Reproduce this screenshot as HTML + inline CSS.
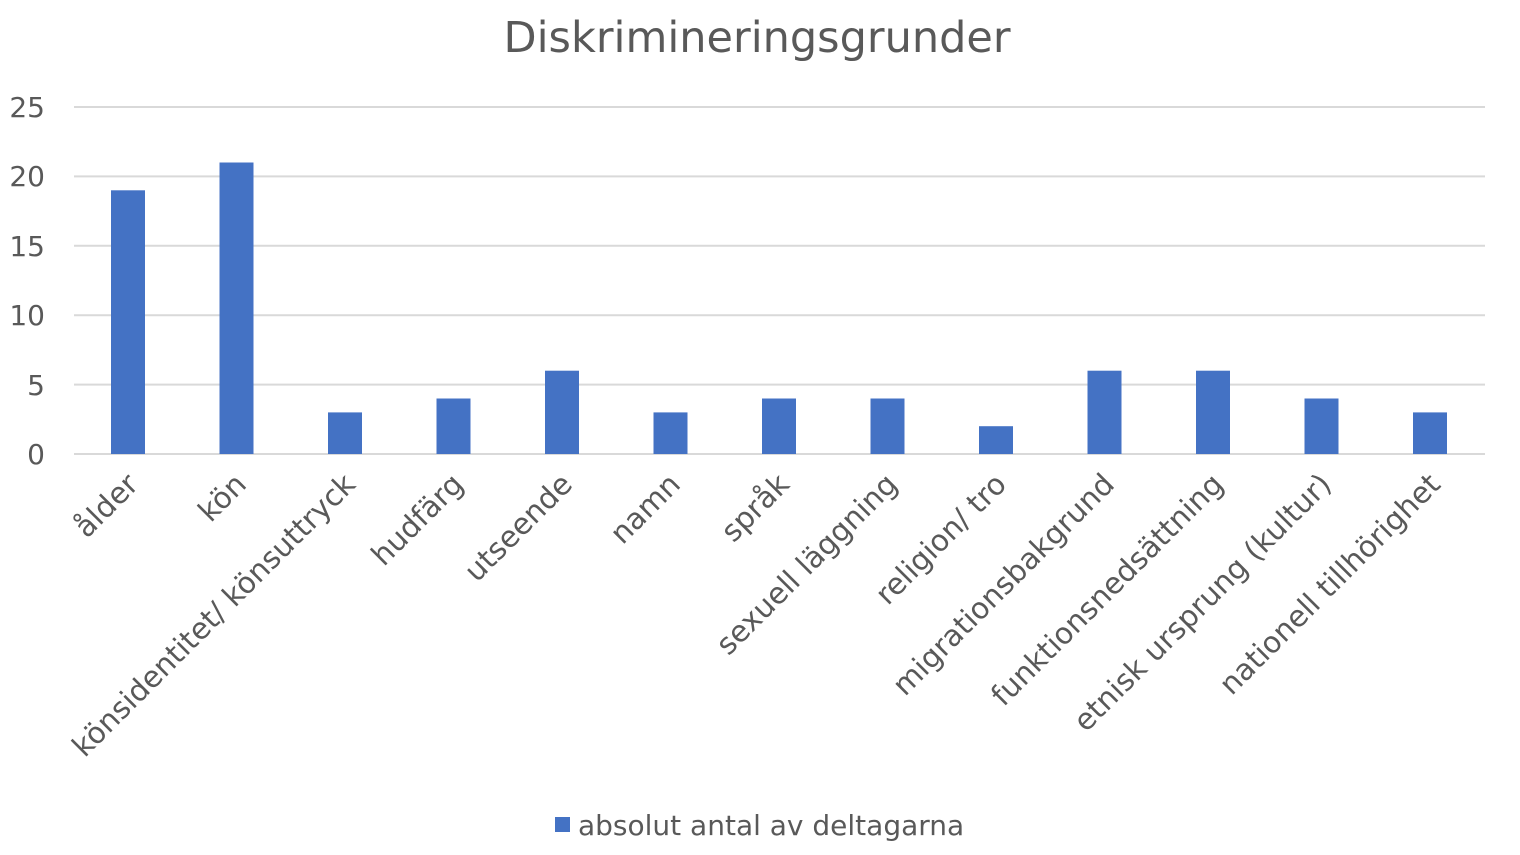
<!DOCTYPE html>
<html><head><meta charset="utf-8"><style>
html,body{margin:0;padding:0;background:#fff;}
svg{display:block;}
text{font-family:"DejaVu Sans","Liberation Sans",sans-serif;fill:#595959;}
</style></head><body>
<svg width="1520" height="855" viewBox="0 0 1520 855" xmlns="http://www.w3.org/2000/svg">
<text x="757" y="52" text-anchor="middle" font-size="43">Diskrimineringsgrunder</text>
<g stroke="#d9d9d9" stroke-width="2">
<line x1="74" x2="1485" y1="107" y2="107"/>
<line x1="74" x2="1485" y1="176.4" y2="176.4"/>
<line x1="74" x2="1485" y1="245.8" y2="245.8"/>
<line x1="74" x2="1485" y1="315.2" y2="315.2"/>
<line x1="74" x2="1485" y1="384.6" y2="384.6"/>
<line x1="74" x2="1485" y1="454" y2="454"/>
</g>
<g font-size="28" text-anchor="end">
<text x="45" y="117">25</text>
<text x="45" y="186">20</text>
<text x="45" y="256">15</text>
<text x="45" y="325">10</text>
<text x="45" y="395">5</text>
<text x="45" y="464">0</text>
</g>
<g fill="#4472c4">
<rect x="111" y="190.3" width="34" height="263.7"/>
<rect x="219.5" y="162.5" width="34" height="291.5"/>
<rect x="328" y="412.4" width="34" height="41.6"/>
<rect x="436.5" y="398.5" width="34" height="55.5"/>
<rect x="545" y="370.7" width="34" height="83.3"/>
<rect x="653.5" y="412.4" width="34" height="41.6"/>
<rect x="762" y="398.5" width="34" height="55.5"/>
<rect x="870.5" y="398.5" width="34" height="55.5"/>
<rect x="979" y="426.2" width="34" height="27.8"/>
<rect x="1087.5" y="370.7" width="34" height="83.3"/>
<rect x="1196" y="370.7" width="34" height="83.3"/>
<rect x="1304.5" y="398.5" width="34" height="55.5"/>
<rect x="1413" y="412.4" width="34" height="41.6"/>
</g>
<g font-size="29.5" text-anchor="end">
<text transform="translate(140,486) rotate(-45)">ålder</text>
<text transform="translate(248,486) rotate(-45)">kön</text>
<text transform="translate(357,486) rotate(-45)">könsidentitet/ könsuttryck</text>
<text transform="translate(465,486) rotate(-45)">hudfärg</text>
<text transform="translate(574,486) rotate(-45)">utseende</text>
<text transform="translate(682,486) rotate(-45)">namn</text>
<text transform="translate(791,486) rotate(-45)">språk</text>
<text transform="translate(899,486) rotate(-45)">sexuell läggning</text>
<text transform="translate(1008,486) rotate(-45)">religion/ tro</text>
<text transform="translate(1116,486) rotate(-45)">migrationsbakgrund</text>
<text transform="translate(1225,486) rotate(-45)">funktionsnedsättning</text>
<text transform="translate(1333,486) rotate(-45)">etnisk ursprung (kultur)</text>
<text transform="translate(1442,486) rotate(-45)">nationell tillhörighet</text>
</g>
<rect x="555" y="817" width="15" height="15" fill="#4472c4"/>
<text x="578" y="835" font-size="28">absolut antal av deltagarna</text>
</svg>
</body></html>
